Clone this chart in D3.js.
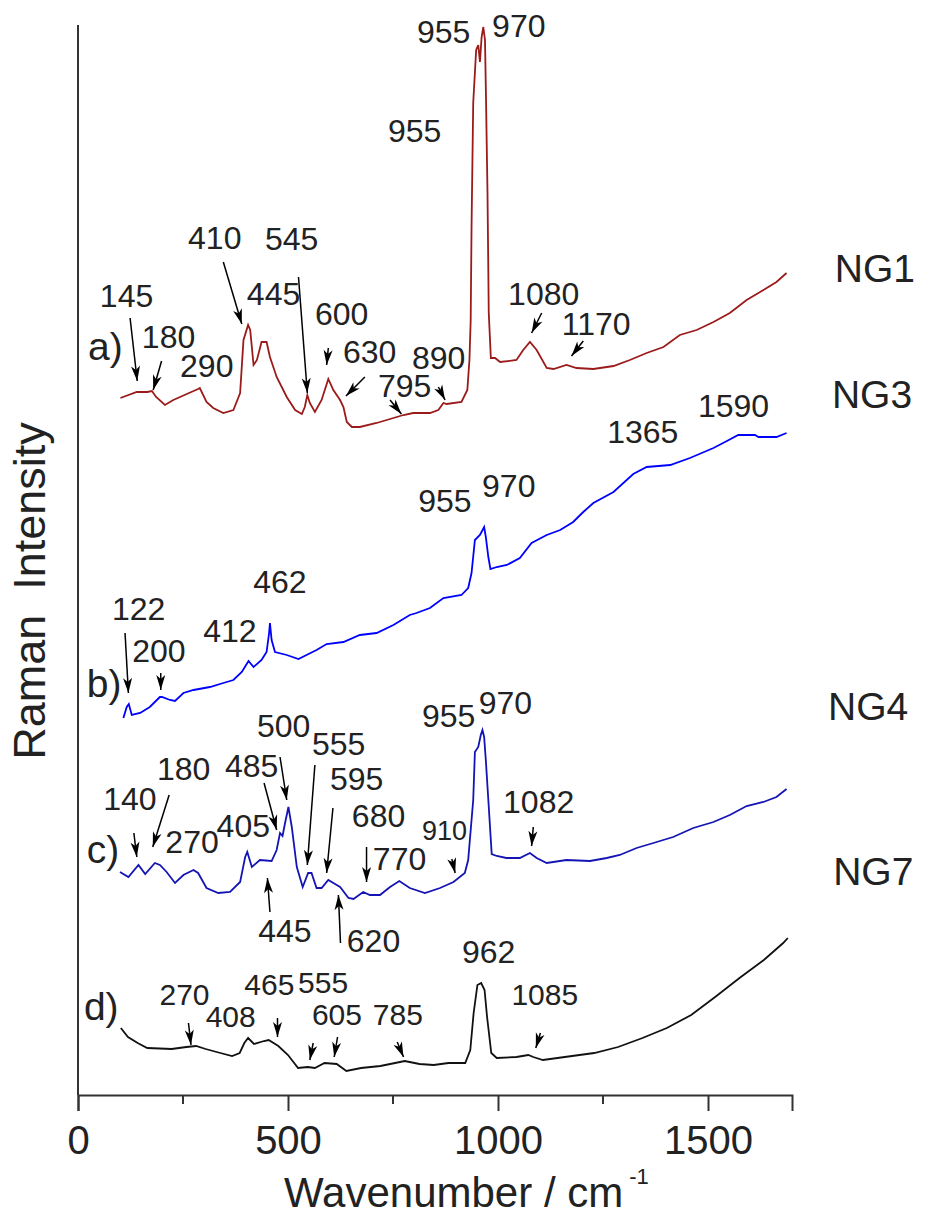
<!DOCTYPE html>
<html>
<head>
<meta charset="utf-8">
<script src="https://cdn.jsdelivr.net/npm/d3@7"></script>
<style>
  body { margin: 0; background: #fff; }
  text { font-family: "Liberation Sans", Arial, sans-serif; fill: #222; }
</style>
</head>
<body>
<div id="chart"></div>
<script>
// spectra: [wavenumber, intensity (a.u., offset per trace)]
var ng1 = [[101,697],[140,703],[165,703],[176,704],[186,698],[207,690],[227,695],[259,701],[286,706],[290,707],
  [306,693],[322,687],[346,682],[370,685],[386,702],[394,755],[405,770],[410,765],[418,730],[426,735],[437,753],
  [449,753],[457,738],[473,718],[497,698],[517,685],[533,681],[540,688],[546,700],[552,692],[564,683],[580,695],
  [596,716],[608,705],[624,695],[632,688],[640,673],[652,668],[671,668],[711,672],[751,677],[775,680],[798,682],
  [838,682],[858,685],[870,692],[878,691],[913,693],[927,705],[932,735],[935,775],[937,868],[941,992],[948,1045],
  [953,1050],[957,1033],[961,1058],[965,1068],[969,1055],[971,1008],[975,902],[978,782],[983,737],[993,737],
  [1005,733],[1044,735],[1060,745],[1076,753],[1092,745],[1116,727],[1132,726],[1163,730],[1187,727],[1227,726],
  [1275,729],[1314,735],[1354,742],[1394,748],[1433,760],[1473,765],[1513,773],[1552,782],[1592,795],[1632,805],
  [1663,813],[1687,822]];

var ng3 = [[108,377],[116,388],[121,391],[128,380],[148,382],[171,388],[195,398],[200,398],[219,395],[231,394],
  [251,402],[275,405],[314,408],[346,412],[370,415],[390,423],[406,434],[418,428],[437,435],[449,443],[455,462],
  [457,472],[461,455],[469,443],[497,440],[525,436],[544,440],[568,445],[592,451],[632,453],[671,460],[711,462],
  [751,470],[790,480],[806,482],[838,487],[870,497],[913,500],[929,507],[937,522],[945,555],[957,560],[967,568],
  [971,558],[977,538],[982,526],[997,528],[1021,530],[1052,537],[1080,552],[1116,560],[1148,565],[1179,573],
  [1203,583],[1227,592],[1275,603],[1322,621],[1354,628],[1410,630],[1457,637],[1513,647],[1545,654],[1572,660],
  [1612,660],[1620,658],[1663,658],[1687,662]];

var ng4 = [[100,223],[120,218],[144,230],[160,221],[183,232],[195,230],[211,223],[231,212],[251,220],[275,225],
  [286,222],[306,207],[334,202],[362,203],[386,213],[398,238],[403,243],[414,228],[433,235],[461,234],[473,245],
  [481,262],[487,259],[493,272],[501,288],[509,268],[521,228],[535,208],[548,222],[556,222],[568,207],[580,207],
  [596,215],[608,212],[624,208],[644,197],[656,196],[679,203],[695,200],[719,200],[743,208],[765,214],[790,207],
  [826,202],[862,207],[894,213],[921,222],[929,235],[941,295],[945,343],[953,348],[959,360],[963,365],[967,358],
  [971,335],[977,295],[985,241],[997,239],[1020,237],[1052,237],[1076,242],[1092,237],[1116,232],[1163,235],
  [1219,234],[1259,237],[1290,240],[1330,247],[1370,252],[1417,258],[1465,267],[1513,273],[1552,280],[1592,289],
  [1632,293],[1663,298],[1687,306]];

var ng7 = [[102,67],[119,58],[142,52],[165,47],[223,46],[258,48],[281,49],[304,46],[339,42],[367,39],[385,42],
  [396,52],[405,57],[419,51],[443,54],[454,55],[477,49],[500,40],[524,27],[547,28],[564,27],[587,32],[616,31],
  [639,24],[674,27],[720,29],[755,32],[778,34],[813,31],[847,30],[882,32],[922,32],[934,45],[942,82],[951,110],
  [960,112],[968,105],[974,78],[984,42],[997,37],[1044,38],[1072,40],[1084,38],[1107,35],[1159,38],[1229,42],
  [1286,48],[1344,57],[1402,67],[1460,80],[1517,98],[1575,117],[1633,135],[1679,152],[1690,157]];

var seriesNames = ["NG1", "NG3", "NG4", "NG7"];
var seriesColors = ["#9b1b1b", "#0000ff", "#1414b4", "#111111"];

// name label positions [wavenumber, intensity]
var namePos = [[1802,813],[1795,687],[1786,375],[1798,210]];
var letterLabels = [["a)",24,735],["b)",21,398],["c)",21,232],["d)",14,75]];

// peak labels: [text, wavenumber, intensity, size]
var peakLabels = [
  ["145",52,788,"m"],["180",152,747,"m"],["290",243,718,"m"],["410",262,846,"m"],["445",402,790,"m"],
  ["545",445,845,"m"],["600",564,770,"m"],["630",631,732,"m"],["795",714,698,"m"],["890",795,726,"m"],
  ["955",738,953,"m"],["955",807,1052,"m"],["970",986,1058,"m"],["1080",1024,790,"m"],["1170",1152,760,"m"],
  ["122",81,475,"m"],["200",129,433,"m"],["412",298,453,"m"],["462",417,502,"m"],["955",810,583,"m"],
  ["970",962,598,"m"],["1365",1260,652,"m"],["1590",1476,678,"m"],
  ["140",60,285,"m"],["180",188,315,"m"],["270",208,242,"m"],["405",330,258,"m"],["485",350,318,"m"],
  ["500",426,358,"m"],["555",557,340,"m"],["595",600,305,"m"],["680",652,268,"m"],["770",702,225,"m"],
  ["910",819,255,"s"],["955",819,368,"m"],["970",954,381,"m"],["1082",1012,282,"m"],["445",429,153,"m"],
  ["620",640,143,"m"],
  ["270",194,90,"n"],["408",304,68,"n"],["465",396,100,"n"],["555",524,102,"n"],["605",557,70,"n"],
  ["785",702,70,"n"],["962",914,132,"m"],["1085",1032,90,"n"]];

// arrows: [w0, i0, w1, i1] tail -> tip
var arrows = [
  [124,777,141,714],[199,734,179,705],[346,833,390,771],[525,818,546,702],[596,747,592,730],[683,718,638,699],
  [743,695,770,681],[858,708,874,695],[1104,782,1080,762],[1203,754,1175,739],
  [112,462,120,402],[197,422,197,405],
  [133,262,140,238],[217,300,178,248],[443,312,473,265],[481,338,497,295],[564,330,546,230],[607,287,592,222],
  [687,248,687,213],[890,236,898,222],[457,183,451,217],[625,152,620,200],[1084,268,1080,249],
  [263,72,269,50],[475,77,475,58],[560,52,552,35],[618,58,610,38],[760,53,775,38],[1101,62,1090,47]];

var xTicks = [0, 500, 1000, 1500];
var xMinor = [250, 750, 1250];

var W = 928, H = 1220;
var svg = d3.select("#chart").append("svg").attr("width", W).attr("height", H);

var x = d3.scaleLinear().domain([0, 1700]).range([78, 792]);
var y = d3.scaleLinear().domain([0, 1075]).range([1095, 20]);

svg.append("defs").append("marker")
  .attr("id", "ah").attr("viewBox", "-16 -5 17 10")
  .attr("refX", 0).attr("refY", 0)
  .attr("markerWidth", 17).attr("markerHeight", 10)
  .attr("markerUnits", "userSpaceOnUse").attr("orient", "auto")
  .append("path").attr("d", "M0,0 L-15,-4.5 L-11,0 L-15,4.5 Z").attr("fill", "#000");

var line = d3.line().x(function(d) { return x(d[0]); }).y(function(d) { return y(d[1]); });

[ng1, ng3, ng4, ng7].forEach(function(s, i) {
  svg.append("path").datum(s)
    .attr("d", line)
    .attr("fill", "none")
    .attr("stroke", seriesColors[i])
    .attr("stroke-width", 1.8);
});

// axes
var xAxis = svg.append("g").attr("transform", "translate(0," + y(0) + ")")
  .call(d3.axisBottom(x).tickValues(xTicks).tickSize(16).tickFormat(d3.format("d")));
xAxis.select(".domain").attr("stroke", "#333").attr("stroke-width", 2);
xAxis.selectAll(".tick line").attr("stroke", "#333").attr("stroke-width", 2);
xAxis.selectAll("text").attr("dy", null).attr("y", 59)
  .style("font-size", "40px").style("font-family", "Liberation Sans, Arial, sans-serif").attr("fill", "#111");
xAxis.selectAll(".minor").data(xMinor).enter().append("line")
  .attr("x1", function(d) { return x(d); }).attr("x2", function(d) { return x(d); })
  .attr("y1", 0).attr("y2", 9).attr("stroke", "#333").attr("stroke-width", 2);

svg.append("line")
  .attr("x1", x(0)).attr("x2", x(0)).attr("y1", 25).attr("y2", y(0))
  .attr("stroke", "#333").attr("stroke-width", 2);

var xt = svg.append("text").attr("x", 284).attr("y", 1207).style("font-size", "42px").text("Wavenumber / cm");
xt.append("tspan").attr("dx", 6).attr("dy", -23).style("font-size", "22px").text("-1");

svg.append("text")
  .attr("transform", "translate(45,591) rotate(-90)")
  .attr("text-anchor", "middle")
  .style("font-size", "45px")
  .text("Raman\u00a0 Intensity");

// annotations
svg.selectAll(".arr").data(arrows).enter().append("line")
  .attr("x1", function(d) { return x(d[0]); }).attr("y1", function(d) { return y(d[1]); })
  .attr("x2", function(d) { return x(d[2]); }).attr("y2", function(d) { return y(d[3]); })
  .attr("stroke", "#000").attr("stroke-width", 1.5)
  .attr("marker-end", "url(#ah)");

var sizes = { m: "32px", s: "27px", n: "30px" };
svg.selectAll(".pk").data(peakLabels).enter().append("text")
  .attr("x", function(d) { return x(d[1]); })
  .attr("y", function(d) { return y(d[2]); })
  .style("font-size", function(d) { return sizes[d[3]]; })
  .text(function(d) { return d[0]; });

svg.selectAll(".let").data(letterLabels).enter().append("text")
  .attr("x", function(d) { return x(d[1]); })
  .attr("y", function(d) { return y(d[2]); })
  .style("font-size", "39px")
  .text(function(d) { return d[0]; });

svg.selectAll(".nm").data(seriesNames).enter().append("text")
  .attr("x", function(d, i) { return x(namePos[i][0]); })
  .attr("y", function(d, i) { return y(namePos[i][1]); })
  .style("font-size", "39px")
  .text(function(d) { return d; });
</script>
</body>
</html>
